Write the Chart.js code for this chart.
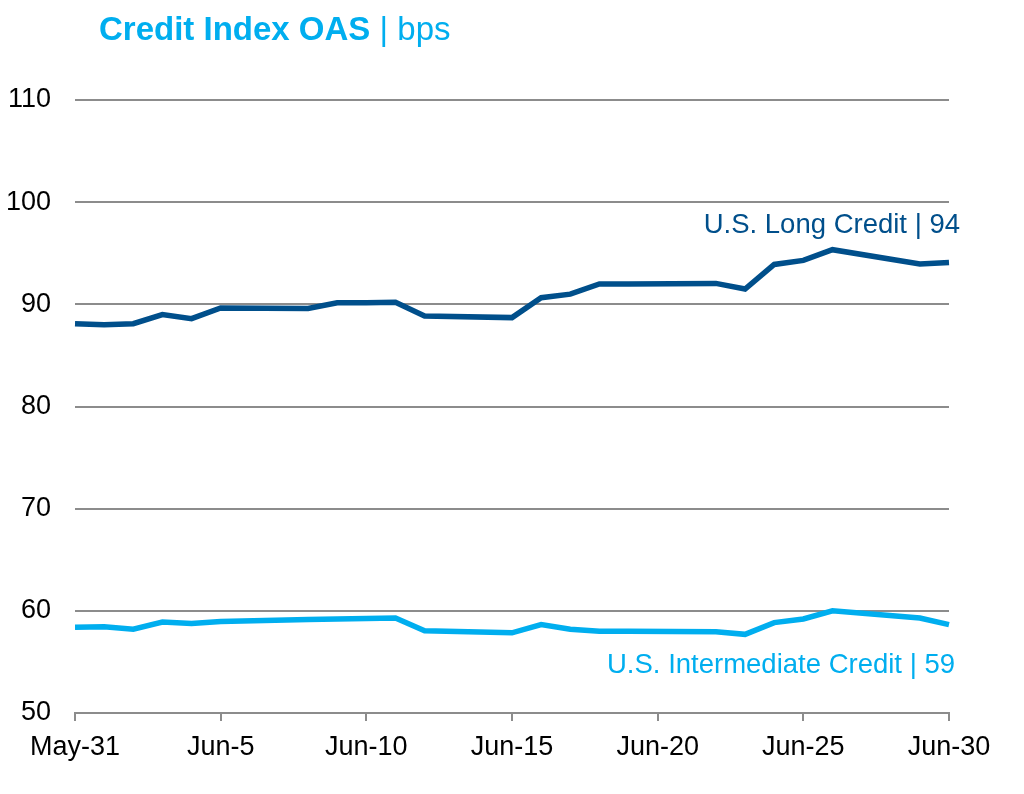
<!DOCTYPE html>
<html>
<head>
<meta charset="utf-8">
<script src="https://cdn.jsdelivr.net/npm/chart.js@4.4.0/dist/chart.umd.min.js"></script>
<style>
  html, body { margin: 0; padding: 0; background: #fff; }
  #wrap { width: 1024px; height: 794px; }
</style>
</head>
<body>
<div id="wrap"><canvas id="graphic" width="1024" height="794"></canvas></div>
<script>
// daily dates, weekends left empty (lines span across them)
var dates = ['May-31', 'Jun-1', 'Jun-2', 'Jun-3', 'Jun-4', 'Jun-5', 'Jun-6', 'Jun-7', 'Jun-8', 'Jun-9',
  'Jun-10', 'Jun-11', 'Jun-12', 'Jun-13', 'Jun-14', 'Jun-15', 'Jun-16', 'Jun-17', 'Jun-18', 'Jun-19',
  'Jun-20', 'Jun-21', 'Jun-22', 'Jun-23', 'Jun-24', 'Jun-25', 'Jun-26', 'Jun-27', 'Jun-28', 'Jun-29', 'Jun-30'];

var longCredit = [88.1, 88.0, 88.1, 89.0, 88.6, 89.65, null, null, 89.6, 90.15,
  90.15, 90.2, 88.85, null, null, 88.7, 90.65, 91.0, 92.0, 92.0,
  null, null, 92.05, 91.5, 93.9, 94.3, 95.35, null, null, 93.95, 94.1];

var intermediateCredit = [58.4, 58.45, 58.2, 58.9, 58.75, 58.95, null, null, 59.15, 59.2,
  59.25, 59.3, 58.05, null, null, 57.85, 58.65, 58.2, 58.0, 58.0,
  null, null, 57.95, 57.7, 58.85, 59.2, 60.0, null, null, 59.3, 58.65];

var yTicks = [50, 60, 70, 80, 90, 100, 110];
var seriesLabels = ['U.S. Long Credit | 94', 'U.S. Intermediate Credit | 59'];

var darkBlue = '#004f8b';
var lightBlue = '#00aeef';
var gridGray = '#8c8c8c';
var font = '"Liberation Sans", Arial, sans-serif';

// title and end-of-line labels
var textPlugin = {
  id: 'texts',
  afterDraw: function (chart) {
    var ctx = chart.ctx;
    var area = chart.chartArea;
    var y = chart.scales.y;
    ctx.save();
    ctx.textBaseline = 'alphabetic';
    ctx.fillStyle = lightBlue;
    ctx.font = 'bold 33px ' + font;
    ctx.textAlign = 'left';
    var t1 = 'Credit Index OAS ';
    ctx.fillText(t1, 99, 40);
    var w = ctx.measureText(t1).width;
    ctx.font = '33px ' + font;
    ctx.fillText('| bps', 99 + w, 40);

    ctx.textAlign = 'right';
    ctx.font = '27.5px ' + font;
    ctx.fillStyle = darkBlue;
    ctx.fillText(seriesLabels[0], area.right + 11, y.getPixelForValue(longCredit[longCredit.length - 1]) - 29);
    ctx.fillStyle = lightBlue;
    ctx.fillText(seriesLabels[1], area.right + 6, y.getPixelForValue(intermediateCredit[intermediateCredit.length - 1]) + 48);
    ctx.restore();
  }
};

var graphic = document.getElementById('graphic').getContext('2d');

var chart = new Chart(graphic, {
  type: 'line',
  data: {
    labels: dates,
    datasets: [{
      label: seriesLabels[0],
      data: longCredit,
      borderColor: darkBlue,
      borderWidth: 5.5,
      pointRadius: 0,
      spanGaps: true,
      tension: 0
    }, {
      label: seriesLabels[1],
      data: intermediateCredit,
      borderColor: lightBlue,
      borderWidth: 5.5,
      pointRadius: 0,
      spanGaps: true,
      tension: 0
    }]
  },
  options: {
    responsive: false,
    animation: false,
    layout: { padding: { left: 0, top: 100, right: 75, bottom: 0 } },
    plugins: {
      legend: { display: false },
      tooltip: { enabled: false }
    },
    scales: {
      x: {
        offset: false,
        grid: { drawOnChartArea: false, drawTicks: true, tickLength: 8, color: gridGray, lineWidth: 2 },
        border: { display: true, color: gridGray, width: 2 },
        ticks: {
          autoSkip: false,
          maxRotation: 0,
          padding: 10,
          color: '#000',
          font: { family: font, size: 27 },
          callback: function (value, index) {
            return index % 5 === 0 ? dates[index] : null;
          }
        },
        afterFit: function (scale) { scale.height = 81; }
      },
      y: {
        min: yTicks[0],
        max: yTicks[yTicks.length - 1],
        afterBuildTicks: function (scale) {
          scale.ticks = yTicks.map(function (v) { return { value: v }; });
        },
        grid: { drawTicks: false, color: gridGray, lineWidth: 2 },
        border: { display: false },
        ticks: {
          padding: 24,
          color: '#000',
          font: { family: font, size: 27 }
        },
        afterFit: function (scale) { scale.width = 75; }
      }
    }
  },
  plugins: [textPlugin]
});
</script>
</body>
</html>
